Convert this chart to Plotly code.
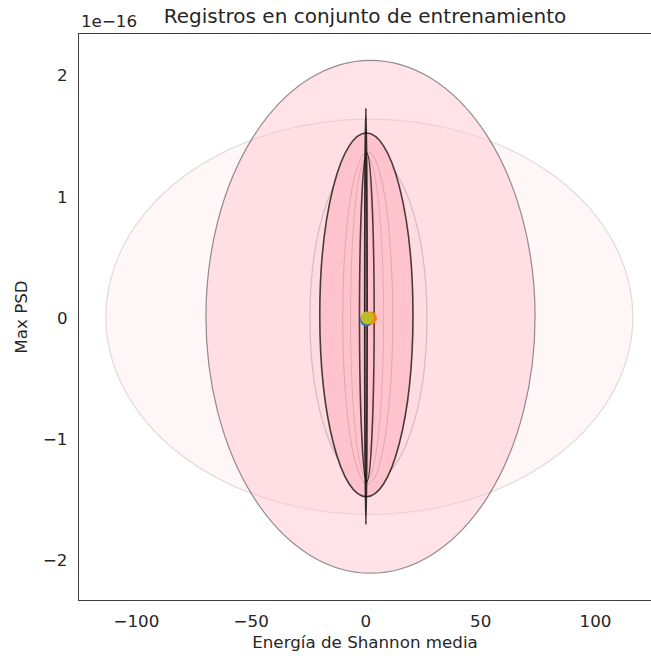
import plotly.graph_objects as go

# ---------------- data ----------------
# ellipse parameters (x in energy units, y in PSD units)
ell_names = ["wide", "tall", "A_light", "B_dark", "C_light", "C2_light", "D_dark", "thin"]
ell_cx = [1.5, 2.0, 1.1, 0.2, 0.8, 0.5, 0.4, 0.0]
ell_cy = [0.01e-16, 0.01e-16, -0.004e-16, 0.025e-16, 0.0, 0.0, 0.004e-16, 0.013e-16]
ell_halfw = [114.8, 71.7, 25.5, 20.3, 10.9, 7.2, 3.2, 0.5]
ell_halfh = [1.63e-16, 2.115e-16, 1.36e-16, 1.50e-16, 1.37e-16, 1.33e-16, 1.354e-16, 1.716e-16]
ell_fill_alpha = [0.15, 0.45, 0.08, 0.9, 0.05, 0.05, 0.12, 0.2]
ell_edge_alpha = [0.13, 0.42, 0.16, 0.72, 0.14, 0.12, 0.7, 0.8]
ell_edge_width = [1.2, 1.2, 1.2, 1.6, 1.0, 1.0, 1.6, 1.8]

# class centroids (scatter points)
pt_x = [0.3, 2.0, 0.6]
pt_y = [-0.015e-16, 0.0, 0.0]
pt_color = ["#1f77b4", "#ff7f0e", "#bcbd22"]

x_ticks = [-100, -50, 0, 50, 100]
x_ticktext = ["\u2212100", "\u221250", "0", "50", "100"]
y_ticks = [-2e-16, -1e-16, 0, 1e-16, 2e-16]
y_ticktext = ["\u22122", "\u22121", "0", "1", "2"]

# ---------------- figure ----------------
FONT = "DejaVu Sans"
TXT = "#262626"

fig = go.Figure()

shapes = []
for cx, cy, w, h, fa, ea, lw in zip(ell_cx, ell_cy, ell_halfw, ell_halfh,
                                     ell_fill_alpha, ell_edge_alpha, ell_edge_width):
    shapes.append(dict(
        type="circle", xref="x", yref="y",
        x0=cx - w, x1=cx + w, y0=cy - h, y1=cy + h,
        fillcolor=f"rgba(255,192,203,{fa})",
        line=dict(color=f"rgba(0,0,0,{ea})", width=lw),
        layer="below",
    ))

for x, y, c in zip(pt_x, pt_y, pt_color):
    fig.add_trace(go.Scatter(
        x=[x], y=[y], mode="markers",
        marker=dict(color=c, size=13, line=dict(width=0)),
        showlegend=False, hoverinfo="skip",
    ))

fig.update_layout(
    width=651, height=660,
    margin=dict(l=79, r=0, t=34, b=60),
    paper_bgcolor="white", plot_bgcolor="white",
    shapes=shapes,
    font=dict(family=FONT, size=16.7, color=TXT),
    title=dict(
        text="Registros en conjunto de entrenamiento",
        font=dict(family=FONT, size=20, color=TXT),
        xref="paper", x=0.5, xanchor="center",
        yref="container", y=1 - 16 / 660, yanchor="middle",
    ),
    showlegend=False,
    annotations=[dict(
        text="1e\u221216", xref="paper", yref="paper",
        x=0, y=1 + 1 / 566, xanchor="left", yanchor="bottom",
        showarrow=False, font=dict(family=FONT, size=16.7, color=TXT),
    )],
)

fig.update_xaxes(
    range=[-125, 124.2], tickvals=x_ticks, ticktext=x_ticktext,
    showgrid=False, zeroline=False, showline=True, linecolor="#3d3d3d",
    linewidth=1.3, mirror=True, ticks="", ticklabelstandoff=6,
    title=dict(text="Energía de Shannon media", standoff=6,
               font=dict(family=FONT, size=16.7, color=TXT)),
    automargin=False,
)
fig.update_yaxes(
    range=[-2.326e-16, 2.342e-16], tickvals=y_ticks, ticktext=y_ticktext,
    showgrid=False, zeroline=False, showline=True, linecolor="#3d3d3d",
    linewidth=1.3, mirror=False, ticks="", ticklabelstandoff=7,
    title=dict(text="Max PSD", standoff=11,
               font=dict(family=FONT, size=16.7, color=TXT)),
    automargin=False,
)

fig.write_html("out.html")
